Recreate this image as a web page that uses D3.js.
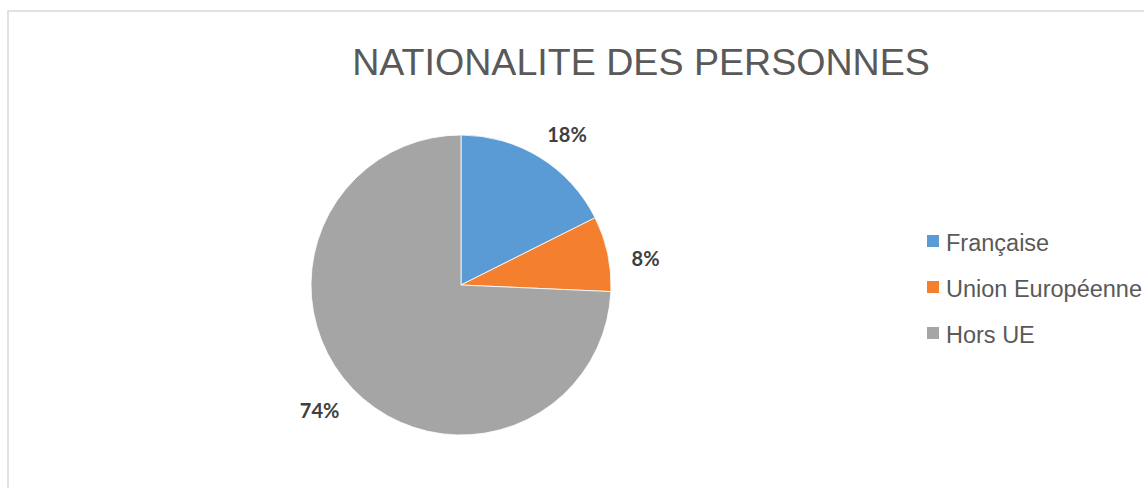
<!DOCTYPE html>
<html><head><meta charset="utf-8">
<script src="https://cdn.jsdelivr.net/npm/d3@7"></script>
<style>html,body{margin:0;padding:0;background:#fff;overflow:hidden}</style>
</head><body>
<svg id="c" width="1144" height="488"></svg>
<script>
const categories = ["Française", "Union Européenne", "Hors UE"];
const values = [17.6, 8.1, 74.3];
const colors = ["#5B9BD5", "#F4802F", "#A5A5A5"];
const title = "NATIONALITE DES PERSONNES";

const svg = d3.select("#c");
svg.append("rect").attr("x", 8).attr("y", 11).attr("width", 1150).attr("height", 490)
  .attr("fill", "#fff").attr("stroke", "#d9d9d9").attr("stroke-width", 1.5);

svg.append("text").attr("x", 641).attr("y", 75).attr("text-anchor", "middle")
  .attr("font-family", "Liberation Sans, Arial, sans-serif").attr("font-size", 37.6)
  .attr("fill", "#595959").text(title);

const cx = 461, cy = 285, r = 150;
const total = d3.sum(values);
const pie = d3.pie().sort(null).value(d => d)(values);
const arc = d3.arc().innerRadius(0).outerRadius(r);
const g = svg.append("g").attr("transform", `translate(${cx},${cy})`);
g.selectAll("path").data(pie).join("path")
  .attr("d", arc).attr("fill", (d, i) => colors[i])
  .attr("stroke", "#fff").attr("stroke-width", 0.8);

const fmt = d3.format(".0%");
const rr = r + 37;
g.selectAll("text.lbl").data(pie).join("text").attr("class", "lbl")
  .attr("transform", d => {
    const a = (d.startAngle + d.endAngle) / 2 + 0.05;
    return `translate(${rr * Math.sin(a)},${-rr * Math.cos(a) + 3})`;
  })
  .attr("text-anchor", "middle").attr("dominant-baseline", "central")
  .attr("font-family", "Lato, Carlito, sans-serif").attr("font-weight", "bold")
  .attr("font-size", 20).attr("fill", "#404040")
  .text(d => fmt(d.data / total));

const lg = svg.append("g").attr("transform", "translate(927,242)");
const items = lg.selectAll("g").data(categories).join("g")
  .attr("transform", (d, i) => `translate(0,${i * 46})`);
items.append("rect").attr("x", 0).attr("y", -7).attr("width", 12).attr("height", 12)
  .attr("fill", (d, i) => colors[i]);
items.append("text").attr("x", 19).attr("y", 1).attr("dominant-baseline", "central")
  .attr("font-family", "Liberation Sans, Arial, sans-serif").attr("font-size", 23.5)
  .attr("fill", "#595959").text(d => d);
</script>
</body></html>
